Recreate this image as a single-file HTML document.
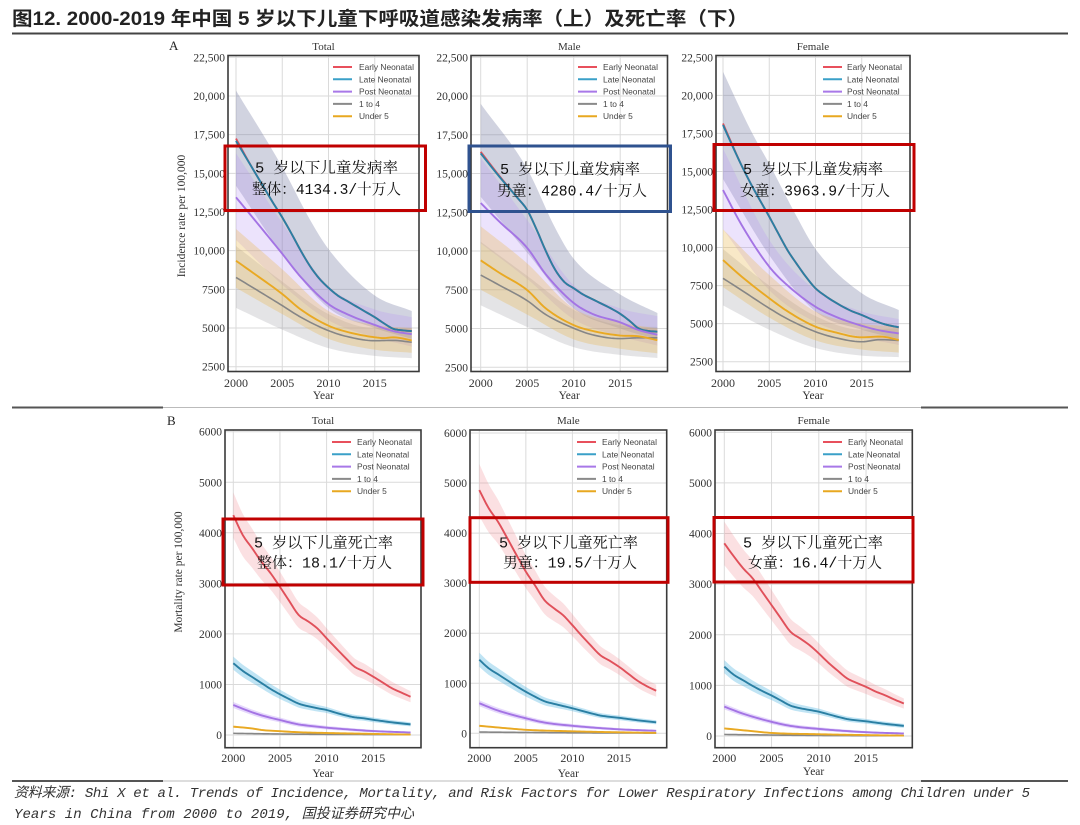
<!DOCTYPE html>
<html><head><meta charset="utf-8">
<style>
html,body{margin:0;padding:0;background:#fff;}
svg{display:block;}
</style></head>
<body>
<svg id="s" width="1080" height="825" viewBox="0 0 1080 825" xmlns="http://www.w3.org/2000/svg">
<rect width="1080" height="825" fill="#fff"/>
<text x="12" y="25" font-family="'Liberation Sans','Noto Sans CJK SC',sans-serif" font-weight="bold" font-size="19" fill="#222" textLength="736" lengthAdjust="spacingAndGlyphs">图12. 2000-2019 年中国 5 岁以下儿童下呼吸道感染发病率（上）及死亡率（下）</text>
<rect x="12" y="32.5" width="1056" height="2" fill="#444"/>
<rect x="12" y="406.5" width="151" height="2" fill="#555"/>
<rect x="163" y="407" width="758" height="1" fill="#bbb"/>
<rect x="921" y="406.5" width="147" height="2" fill="#555"/>
<rect x="12" y="780" width="151" height="2" fill="#555"/>
<rect x="163" y="780.5" width="758" height="1" fill="#bbb"/>
<rect x="921" y="780" width="147" height="2" fill="#555"/>
<g font-family="'Liberation Mono','Noto Sans CJK SC',monospace" font-style="italic" font-size="14" fill="#333">
<text x="14" y="797" textLength="1016" lengthAdjust="spacing">资料来源: Shi X et al. Trends of Incidence, Mortality, and Risk Factors for Lower Respiratory Infections among Children under 5</text>
<text x="14" y="818" textLength="400" lengthAdjust="spacing">Years in China from 2000 to 2019, 国投证券研究中心</text>
</g>
<g font-family="'Liberation Serif',serif" fill="#222">
<text x="169" y="50" font-size="13">A</text>
<text x="167" y="425" font-size="13">B</text>
</g>
<g id="plots"></g>
<g id="ann"></g>
</svg>
<script>
(function(){
const NS='http://www.w3.org/2000/svg';
const svg=document.getElementById('s');
const root=document.getElementById('plots');
const ann=document.getElementById('ann');
function mk(tag,a,p,t){const e=document.createElementNS(NS,tag);for(const k in a)e.setAttribute(k,a[k]);if(t!=null)e.textContent=t;(p||svg).appendChild(e);return e;}
function spline(anch){
  const n=anch.length, xs=anch.map(a=>a[0]), ys=anch.map(a=>a[1]);
  if(n===1) return ()=>ys[0];
  const m=[];
  for(let i=0;i<n;i++){
    if(i===0) m.push((ys[1]-ys[0])/(xs[1]-xs[0]));
    else if(i===n-1) m.push((ys[n-1]-ys[n-2])/(xs[n-1]-xs[n-2]));
    else {const d0=(ys[i]-ys[i-1])/(xs[i]-xs[i-1]), d1=(ys[i+1]-ys[i])/(xs[i+1]-xs[i]); m.push(d0*d1<=0?0:(d0+d1)/2);}
  }
  return function(x){
    if(x<=xs[0]) return ys[0]; if(x>=xs[n-1]) return ys[n-1];
    let i=0; while(xs[i+1]<x) i++;
    const h=xs[i+1]-xs[i], t=(x-xs[i])/h;
    const t2=t*t,t3=t2*t;
    return (2*t3-3*t2+1)*ys[i]+(t3-2*t2+t)*h*m[i]+(-2*t3+3*t2)*ys[i+1]+(t3-t2)*h*m[i+1];
  };
}
const defs=mk('defs',{},svg);
const LC={early:'#e0505a',late:'#2a7fa3',post:'#a474e4',g14:'#868686',u5:'#e9a923'};
const LEGC={early:'#e8505c',late:'#3aa0c8',post:'#a878e8',g14:'#8a8a8a',u5:'#e8a820'};
const BANDA={early:'rgba(235,110,120,0.12)',late:'rgba(115,120,160,0.33)',post:'rgba(180,145,245,0.26)',g14:'rgba(150,150,160,0.26)',u5:'rgba(232,185,80,0.32)'};
const BANDB={early:'rgba(240,130,140,0.25)',late:'rgba(90,185,225,0.38)',post:'rgba(175,135,245,0.32)',g14:'rgba(150,150,160,0.2)',u5:'rgba(235,185,70,0.3)'};
const ytA=[[22500,'22,500'],[20000,'20,000'],[17500,'17,500'],[15000,'15,000'],[12500,'12,500'],[10000,'10,000'],[7500,'7500'],[5000,'5000'],[2500,'2500']];
const ytB=[[6000,'6000'],[5000,'5000'],[4000,'4000'],[3000,'3000'],[2000,'2000'],[1000,'1000'],[0,'0']];
const panels=[
{box:[228,55.5,419,371.5],x0:236,dx:9.25,v1:22500,y1:57.3,v2:2500,y2:366.7,yt:ytA,xty:387,yearY:399,titleY:50,title:'Total',band:BANDA,
 ylab:'Incidence rate per 100,000',ylx:185,yly:216,leg:[333,359,67],
 s:{
  early:{l:[[2000,17250],[2001,16150],[2002,15100],[2003,14100],[2004,13100],[2005,12150],[2006,11100],[2007,10000],[2008,9000],[2009,8200],[2010,7600],[2011,7100],[2012,6750],[2013,6400],[2014,6050],[2015,5700],[2016,5300],[2017,4950],[2018,4850],[2019,4800]]},
  late:{l:[[2000,17100],[2001,16100],[2002,15100],[2003,14100],[2004,13100],[2005,12150],[2006,11100],[2007,10000],[2008,9000],[2009,8200],[2010,7600],[2011,7100],[2012,6750],[2013,6400],[2014,6050],[2015,5700],[2016,5300],[2017,4950],[2018,4850],[2019,4800]],
   hi:[[2000,20350],[2005,15400],[2008,12000],[2010,10100],[2015,7100],[2019,6100]],lo:[[2000,14200],[2005,9800],[2010,6300],[2015,5000],[2019,4300]]},
  post:{l:[[2000,13450],[2002,12000],[2005,9800],[2007,8300],[2010,6550],[2012,5900],[2015,5200],[2017,4800],[2019,4600]],
   hi:[[2000,16300],[2005,11800],[2010,7700],[2015,6200],[2019,5700]],lo:[[2000,10700],[2005,7800],[2010,5500],[2015,4400],[2019,3800]]},
  g14:{l:[[2000,8270],[2002,7550],[2005,6450],[2007,5700],[2010,4830],[2012,4450],[2015,4180],[2017,4200],[2019,4080]],
   hi:[[2000,10300],[2005,8000],[2010,5900],[2015,5000],[2019,5000]],lo:[[2000,6300],[2005,4900],[2010,3700],[2015,3200],[2019,3050]]},
  u5:{l:[[2000,9350],[2002,8500],[2005,7200],[2007,6200],[2010,5150],[2012,4750],[2015,4400],[2016,4350],[2017,4400],[2019,4200]],
   hi:[[2000,11400],[2005,8800],[2010,6100],[2015,5200],[2019,5000]],lo:[[2000,7600],[2005,5900],[2010,4300],[2015,3600],[2019,3400]]}
 },
 ann:{rect:[225,146,425.5,210.5],col:'#c00000',t1:['5 岁以下儿童发病率',255,172.4,143],t2:['整体：4134.3/十万人',252,194,149]}},
{box:[471,55.5,667.5,371.5],x0:480.7,dx:9.3,v1:22500,y1:57.3,v2:2500,y2:367.3,yt:ytA,xty:387,yearY:399,titleY:50,title:'Male',band:BANDA,leg:[578,603,67],
 s:{
  early:{l:[[2000,16400],[2002,14850],[2004,13400],[2005,12650],[2006,11400],[2007,10000],[2008,8800],[2009,8000],[2010,7600],[2011,7200],[2012,6900],[2013,6600],[2014,6300],[2015,5950],[2016,5500],[2017,5000],[2018,4850],[2019,4800]]},
  late:{l:[[2000,16300],[2002,14800],[2004,13400],[2005,12650],[2006,11400],[2007,10000],[2008,8800],[2009,8000],[2010,7600],[2011,7200],[2012,6900],[2013,6600],[2014,6300],[2015,5950],[2016,5500],[2017,5000],[2018,4850],[2019,4800]],
   hi:[[2000,19500],[2005,15300],[2008,11500],[2010,9500],[2015,7200],[2019,6000]],lo:[[2000,13500],[2005,9900],[2010,6300],[2015,5000],[2019,4300]]},
  post:{l:[[2000,13100],[2002,11900],[2005,10200],[2007,8500],[2010,6650],[2012,5950],[2015,5400],[2017,4900],[2019,4600]],
   hi:[[2000,16000],[2005,12000],[2010,7800],[2015,6300],[2019,5800]],lo:[[2000,10500],[2005,8200],[2010,5600],[2015,4500],[2019,3900]]},
  g14:{l:[[2000,8450],[2002,7800],[2005,6800],[2007,5900],[2010,5020],[2012,4600],[2015,4350],[2017,4400],[2019,4400]],
   hi:[[2000,10600],[2005,8400],[2010,6200],[2015,5200],[2019,5100]],lo:[[2000,6500],[2005,5100],[2010,3800],[2015,3300],[2019,3100]]},
  u5:{l:[[2000,9400],[2002,8600],[2005,7480],[2007,6300],[2010,5220],[2012,4850],[2015,4550],[2017,4500],[2019,4250]],
   hi:[[2000,11600],[2005,9200],[2010,6300],[2015,5400],[2019,5000]],lo:[[2000,7500],[2005,5900],[2010,4300],[2015,3700],[2019,3400]]}
 },
 ann:{rect:[469,146,670.5,211.5],col:'#2f528f',t1:['5 岁以下儿童发病率',500,173.8,140],t2:['男童：4280.4/十万人',497,195.6,150]}},
{box:[716,55.5,910,371.5],x0:723,dx:9.25,v1:22500,y1:57.3,v2:2500,y2:361.7,yt:ytA,xty:387,yearY:399,titleY:50,title:'Female',band:BANDA,leg:[823,847,67],
 s:{
  early:{l:[[2000,18150],[2001,16750],[2002,15400],[2003,14200],[2004,13100],[2005,12030],[2006,10900],[2007,9800],[2008,8900],[2009,8050],[2010,7320],[2011,6850],[2012,6450],[2013,6100],[2014,5800],[2015,5570],[2016,5300],[2017,5050],[2018,4880],[2019,4760]]},
  late:{l:[[2000,18050],[2001,16700],[2002,15400],[2003,14200],[2004,13100],[2005,12030],[2006,10900],[2007,9800],[2008,8900],[2009,8050],[2010,7320],[2011,6850],[2012,6450],[2013,6100],[2014,5800],[2015,5570],[2016,5300],[2017,5050],[2018,4880],[2019,4760]],
   hi:[[2000,21550],[2003,17700],[2005,15500],[2008,12000],[2010,9900],[2015,7000],[2019,5900]],lo:[[2000,14500],[2005,9500],[2010,5800],[2015,4600],[2019,4000]]},
  post:{l:[[2000,13780],[2002,11500],[2005,8740],[2007,7500],[2010,6110],[2012,5500],[2015,4860],[2017,4550],[2019,4360]],
   hi:[[2000,16500],[2005,10500],[2010,7200],[2015,5800],[2019,5300]],lo:[[2000,11200],[2005,7200],[2010,5100],[2015,4100],[2019,3600]]},
  g14:{l:[[2000,7980],[2002,7200],[2005,6010],[2007,5300],[2010,4470],[2012,4100],[2015,3810],[2017,3950],[2019,3900]],
   hi:[[2000,9900],[2005,7500],[2010,5500],[2015,4600],[2019,4700]],lo:[[2000,6200],[2005,4600],[2010,3400],[2015,2900],[2019,2800]]},
  u5:{l:[[2000,9180],[2002,8100],[2005,6670],[2007,5800],[2010,4800],[2012,4450],[2015,4100],[2017,4150],[2019,3930]],
   hi:[[2000,11200],[2005,8200],[2010,5800],[2015,5000],[2019,4800]],lo:[[2000,7400],[2005,5400],[2010,3900],[2015,3300],[2019,3100]]}
 },
 ann:{rect:[714,144.5,914,210.5],col:'#c00000',t1:['5 岁以下儿童发病率',743,173.8,140],t2:['女童：3963.9/十万人',740,195.6,150]}},
{box:[225,430,421,747.7],x0:233.3,dx:9.33,v1:6000,y1:431.7,v2:0,y2:735,yt:ytB,xty:762,yearY:777,titleY:424,title:'Total',band:BANDB,
 ylab:'Mortality rate per 100,000',ylx:182,yly:572,leg:[332,357,442],
 s:{
  early:{l:[[2000,4350],[2001,3960],[2002,3700],[2003,3430],[2004,3200],[2005,2930],[2006,2650],[2007,2375],[2008,2250],[2009,2110],[2010,1913],[2011,1720],[2012,1530],[2013,1350],[2014,1260],[2015,1153],[2016,1040],[2017,925],[2018,840],[2019,757]],w:[[2000,450],[2005,300],[2010,200],[2019,110]]},
  late:{l:[[2000,1420],[2001,1270],[2002,1150],[2003,1030],[2004,910],[2005,805],[2006,710],[2007,620],[2008,570],[2009,530],[2010,495],[2011,440],[2012,390],[2013,350],[2014,330],[2015,300],[2016,275],[2017,250],[2018,230],[2019,210]],w:[[2000,130],[2010,60],[2019,40]]},
  post:{l:[[2000,594],[2001,520],[2002,450],[2003,390],[2004,340],[2005,297],[2006,250],[2007,210],[2008,185],[2009,165],[2010,145],[2012,115],[2015,78],[2019,50]],w:[[2000,60],[2019,15]]},
  g14:{l:[[2000,33],[2005,20],[2010,12],[2019,8]]},
  u5:{l:[[2000,165],[2002,130],[2003,100],[2005,75],[2007,55],[2010,40],[2015,22],[2019,8]],w:[[2000,20],[2019,5]]}
 },
 ann:{rect:[223,519,423,585],col:'#c00000',t1:['5 岁以下儿童死亡率',254,547.4,139],t2:['整体：18.1/十万人',257,567.4,135]}},
{box:[470,430,666.7,747.7],x0:479.3,dx:9.31,v1:6000,y1:433,v2:0,y2:733.3,yt:ytB,xty:762,yearY:777,titleY:424,title:'Male',band:BANDB,leg:[577,602,442],
 s:{
  early:{l:[[2000,4860],[2001,4500],[2002,4230],[2003,3900],[2004,3560],[2005,3230],[2006,2950],[2007,2660],[2008,2500],[2009,2360],[2010,2160],[2011,1950],[2012,1750],[2013,1560],[2014,1450],[2015,1330],[2016,1190],[2017,1050],[2018,940],[2019,850]],w:[[2000,520],[2005,330],[2010,220],[2019,120]]},
  late:{l:[[2000,1470],[2001,1300],[2002,1180],[2003,1060],[2004,940],[2005,830],[2006,730],[2007,640],[2008,590],[2009,545],[2010,500],[2011,450],[2012,400],[2013,355],[2014,330],[2015,310],[2016,285],[2017,260],[2018,240],[2019,220]],w:[[2000,140],[2010,60],[2019,40]]},
  post:{l:[[2000,600],[2002,455],[2005,300],[2007,215],[2010,150],[2015,80],[2019,50]],w:[[2000,60],[2019,15]]},
  g14:{l:[[2000,25],[2010,10],[2019,5]]},
  u5:{l:[[2000,150],[2003,100],[2005,70],[2010,40],[2015,20],[2019,8]],w:[[2000,20],[2019,5]]}
 },
 ann:{rect:[470,517.7,668,582.3],col:'#c00000',t1:['5 岁以下儿童死亡率',499,547.4,139],t2:['男童：19.5/十万人',503,567.4,134]}},
{box:[715,430,912.3,747.7],x0:724.3,dx:9.45,v1:6000,y1:432.3,v2:0,y2:736,yt:ytB,xty:762,yearY:775,titleY:424,title:'Female',band:BANDB,leg:[823,848,442],
 s:{
  early:{l:[[2000,3806],[2001,3550],[2002,3312],[2003,3115],[2004,2850],[2005,2586],[2006,2320],[2007,2060],[2008,1930],[2009,1797],[2010,1632],[2011,1450],[2012,1290],[2013,1137],[2014,1050],[2015,970],[2016,880],[2017,806],[2018,720],[2019,642]],w:[[2000,430],[2005,300],[2010,200],[2019,100]]},
  late:{l:[[2000,1370],[2001,1210],[2002,1100],[2003,990],[2004,890],[2005,800],[2006,700],[2007,600],[2008,550],[2009,515],[2010,480],[2011,430],[2012,380],[2013,335],[2014,310],[2015,290],[2016,265],[2017,240],[2018,220],[2019,200]],w:[[2000,130],[2010,60],[2019,40]]},
  post:{l:[[2000,580],[2002,440],[2005,280],[2007,200],[2010,140],[2015,75],[2019,50]],w:[[2000,55],[2019,15]]},
  g14:{l:[[2000,30],[2010,10],[2019,5]]},
  u5:{l:[[2000,150],[2003,95],[2005,60],[2010,35],[2015,18],[2019,8]],w:[[2000,20],[2019,5]]}
 },
 ann:{rect:[714,517.5,913,582],col:'#c00000',t1:['5 岁以下儿童死亡率',743,547.4,140],t2:['女童：16.4/十万人',748,567.4,134]}}
];
const order=['early','late','post','g14','u5'];
const lineOrder=['early','late','post','g14','u5'];
const legNames={early:'Early Neonatal',late:'Late Neonatal',post:'Post Neonatal',g14:'1 to 4',u5:'Under 5'};
panels.forEach((P,pi)=>{
  const [bx0,by0,bx1,by1]=P.box;
  const X=yr=>P.x0+(yr-2000)*P.dx;
  const Y=v=>P.y1+(P.v1-v)*(P.y2-P.y1)/(P.v1-P.v2);
  const cp=mk('clipPath',{id:'c'+pi},defs); mk('rect',{x:bx0,y:by0,width:bx1-bx0,height:by1-by0},cp);
  const g=mk('g',{'font-family':"'Liberation Serif',serif",fill:'#333'},root);
  P.yt.forEach(([v,l])=>{const y=Y(v);
    mk('line',{x1:bx0,x2:bx1,y1:y,y2:y,stroke:'#dadada','stroke-width':1},g);
    mk('text',{x:bx0-3,y:y+4,'text-anchor':'end','font-size':11.5},g,l);});
  [2000,2005,2010,2015].forEach(yr=>{const x=X(yr);
    mk('line',{x1:x,x2:x,y1:by0,y2:by1,stroke:'#dadada','stroke-width':1},g);
    mk('text',{x:x,y:P.xty,'text-anchor':'middle','font-size':12},g,String(yr));});
  const cx=(bx0+bx1)/2;
  mk('text',{x:cx,y:P.yearY,'text-anchor':'middle','font-size':11.5},g,'Year');
  mk('text',{x:cx,y:P.titleY,'text-anchor':'middle','font-size':11},g,P.title);
  if(P.ylab){mk('text',{x:0,y:0,'text-anchor':'middle','font-size':11.5,transform:`translate(${P.ylx},${P.yly}) rotate(-90)`},g,P.ylab);}
  const gc=mk('g',{'clip-path':`url(#c${pi})`},g);
  const ts=[];for(let t=2000;t<=2019.0001;t+=0.25)ts.push(t);
  order.forEach(k=>{const s=P.s[k]; if(!s) return;
    let hiF,loF; const lf=spline(s.l);
    if(s.hi){hiF=spline(s.hi);loF=spline(s.lo);}
    else if(s.w){const wf=spline(s.w);hiF=t=>lf(t)+wf(t);loF=t=>lf(t)-wf(t);}
    else return;
    let d='';
    ts.forEach((t,i)=>{d+=(i?'L':'M')+X(t).toFixed(2)+','+Y(hiF(t)).toFixed(2);});
    for(let i=ts.length-1;i>=0;i--){const t=ts[i];d+='L'+X(t).toFixed(2)+','+Y(loF(t)).toFixed(2);}
    d+='Z';
    mk('path',{d:d,fill:P.band[k],stroke:'none'},gc);
  });
  lineOrder.forEach(k=>{const s=P.s[k]; if(!s) return; const lf=spline(s.l);
    let d='';ts.forEach((t,i)=>{d+=(i?'L':'M')+X(t).toFixed(2)+','+Y(lf(t)).toFixed(2);});
    mk('path',{d:d,fill:'none',stroke:LC[k],'stroke-width':k==='g14'?1.6:1.9,'stroke-linejoin':'round'},gc);
  });
  const [lx,tx,ly]=P.leg;
  order.forEach((k,i)=>{const y=ly+i*12.3;
    mk('line',{x1:lx,x2:lx+19,y1:y,y2:y,stroke:LEGC[k],'stroke-width':2},g);
    mk('text',{x:tx,y:y+3,'font-family':"'Liberation Sans',sans-serif",'font-size':8.4,fill:'#444'},g,legNames[k]);
  });
  mk('rect',{x:bx0,y:by0,width:bx1-bx0,height:by1-by0,fill:'none',stroke:'#3a3a3a','stroke-width':1.6},g);
  const A=P.ann; const r=A.rect;
  mk('rect',{x:r[0],y:r[1],width:r[2]-r[0],height:r[3]-r[1],fill:'none',stroke:A.col,'stroke-width':3},ann);
  [A.t1,A.t2].forEach(t=>{
    mk('text',{x:t[1],y:t[2],'font-family':"'Liberation Mono','Noto Serif CJK SC',serif",'font-size':15,fill:'#111',textLength:t[3],lengthAdjust:'spacingAndGlyphs'},ann,t[0]);
  });
});
})();
</script>
</body></html>
